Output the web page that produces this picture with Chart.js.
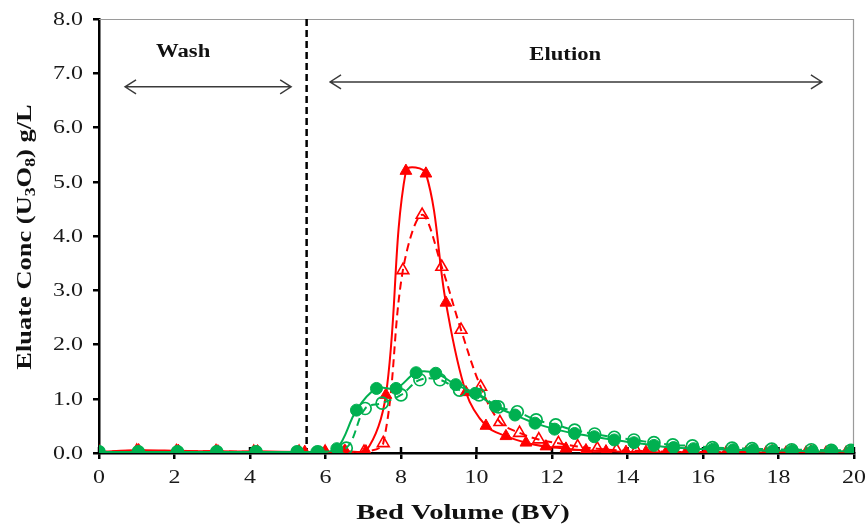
<!DOCTYPE html>
<html>
<head>
<meta charset="utf-8">
<script src="https://cdn.jsdelivr.net/npm/chart.js@4.4.1/dist/chart.umd.min.js"></script>
<style>
  html, body { margin: 0; padding: 0; background: #ffffff; }
  #wrap { width: 867px; height: 527px; }
</style>
</head>
<body>
<div id="wrap"><canvas id="c" width="867" height="527"></canvas></div>
<script>
// ---- Data ----
const redFilledX = [0, 1.05, 2.1, 3.15, 4.2, 5.45, 5.99, 6.53, 7.07, 7.6, 8.13, 8.66, 9.19, 9.72, 10.25, 10.78, 11.31, 11.84, 12.37, 12.9, 13.43, 13.96, 14.49, 15.02, 15.55, 16.08, 16.61, 17.14, 17.67, 18.2, 18.73, 19.26, 19.79];
const redFilledY = [0.02, 0.05, 0.04, 0.03, 0.03, 0.02, 0.02, 0.03, 0.03, 1.07, 5.2, 5.15, 2.77, 1.12, 0.5, 0.31, 0.19, 0.12, 0.08, 0.05, 0.03, 0.02, 0.02, 0.01, 0.01, 0.01, 0.01, 0.01, 0.01, 0.01, 0.01, 0.01, 0.01];

const redOpenX = [0, 1.0, 2.05, 3.1, 4.1, 5.3, 5.99, 6.5, 7.02, 7.53, 8.05, 8.56, 9.08, 9.59, 10.11, 10.62, 11.14, 11.65, 12.17, 12.68, 13.2, 13.71, 14.23, 14.74, 15.26, 15.77, 16.29, 16.8, 17.32, 17.83, 18.35, 18.86, 19.38, 19.89];
const redOpenY = [0.02, 0.04, 0.03, 0.03, 0.02, 0.02, 0.02, 0.02, 0.02, 0.18, 3.37, 4.39, 3.43, 2.27, 1.22, 0.57, 0.37, 0.25, 0.18, 0.12, 0.08, 0.05, 0.04, 0.03, 0.02, 0.02, 0.02, 0.02, 0.02, 0.02, 0.02, 0.02, 0.02, 0.02];

const greenFilledX = [0, 1.04, 2.08, 3.12, 4.16, 5.25, 5.77, 6.3, 6.82, 7.35, 7.87, 8.4, 8.92, 9.45, 9.97, 10.5, 11.02, 11.55, 12.07, 12.6, 13.12, 13.65, 14.17, 14.7, 15.22, 15.75, 16.27, 16.8, 17.32, 17.85, 18.37, 18.9, 19.42, 19.95];
const greenFilledY = [0.02, 0.02, 0.02, 0.02, 0.02, 0.02, 0.02, 0.08, 0.79, 1.19, 1.19, 1.48, 1.47, 1.26, 1.1, 0.86, 0.7, 0.55, 0.44, 0.36, 0.3, 0.24, 0.19, 0.14, 0.1, 0.08, 0.07, 0.06, 0.05, 0.04, 0.04, 0.03, 0.03, 0.03];

const greenOpenX = [0, 1.04, 2.08, 3.12, 4.16, 5.25, 5.8, 6.55, 7.05, 7.5, 8.0, 8.5, 9.03, 9.55, 10.07, 10.58, 11.08, 11.58, 12.1, 12.6, 13.13, 13.65, 14.17, 14.7, 15.2, 15.72, 16.25, 16.77, 17.3, 17.82, 18.35, 18.87, 19.4, 19.92];
const greenOpenY = [0.02, 0.02, 0.02, 0.02, 0.02, 0.02, 0.02, 0.09, 0.82, 0.92, 1.07, 1.35, 1.35, 1.16, 1.07, 0.85, 0.76, 0.61, 0.52, 0.42, 0.35, 0.29, 0.24, 0.19, 0.15, 0.13, 0.1, 0.09, 0.08, 0.07, 0.06, 0.06, 0.05, 0.05];

const xTickValues = [0, 2, 4, 6, 8, 10, 12, 14, 16, 18, 20];
const yTickValues = [0, 1, 2, 3, 4, 5, 6, 7, 8];
const phaseBoundary = 5.5;
const washLabel = "Wash";
const elutionLabel = "Elution";
const xTitle = "Bed Volume (BV)";
const yTitleParts = [["Eluate Conc (U", false], ["3", true], ["O", false], ["8", true], [") g/L", false]];
// arrow annotations in data units: [xStart, xEnd, y]
const washArrow = [0.69, 5.09, 6.75];
const elutionArrow = [6.12, 19.15, 6.84];
const washText = [2.23, 7.38];
const elutionText = [12.35, 7.33];

function pts(xs, ys) { return xs.map((x, i) => ({ x: x, y: ys[i] })); }

const RED = '#FF0000';
const GREEN = '#00B050';
const SERIF = '"Liberation Serif", "Times New Roman", serif';
const STRETCH = 1.26;

function wideText(ctx, text, px, py, align, k) {
  ctx.save();
  ctx.translate(px, py);
  ctx.scale(k || STRETCH, 1);
  ctx.textAlign = align;
  ctx.fillText(text, 0, 0);
  ctx.restore();
}

const decor = {
  id: 'decor',
  beforeDatasetsDraw(chart) {
    const { ctx, chartArea: a, scales: { x, y } } = chart;
    ctx.save();
    ctx.strokeStyle = '#9a9a9a';
    ctx.lineWidth = 1.2;
    ctx.beginPath();
    ctx.moveTo(a.left, a.top + 0.5);
    ctx.lineTo(a.right - 0.5, a.top + 0.5);
    ctx.lineTo(a.right - 0.5, a.bottom);
    ctx.stroke();
    const bx = x.getPixelForValue(phaseBoundary);
    ctx.strokeStyle = '#000';
    ctx.lineWidth = 2.5;
    ctx.setLineDash([7, 4]);
    ctx.beginPath();
    ctx.moveTo(bx, a.top);
    ctx.lineTo(bx, a.bottom);
    ctx.stroke();
    ctx.setLineDash([]);
    ctx.strokeStyle = '#000';
    ctx.lineWidth = 2.5;
    xTickValues.forEach(v => {
      const px = x.getPixelForValue(v);
      ctx.beginPath();
      ctx.moveTo(px, a.bottom);
      ctx.lineTo(px, a.bottom - 6);
      ctx.stroke();
    });
    function arrow(spec) {
      const x1 = x.getPixelForValue(spec[0]);
      const x2 = x.getPixelForValue(spec[1]);
      const py = y.getPixelForValue(spec[2]);
      ctx.strokeStyle = '#3a3a3a';
      ctx.lineWidth = 1.4;
      ctx.beginPath();
      ctx.moveTo(x1, py); ctx.lineTo(x2, py);
      ctx.moveTo(x1 + 11, py - 7); ctx.lineTo(x1, py); ctx.lineTo(x1 + 11, py + 7);
      ctx.moveTo(x2 - 11, py - 7); ctx.lineTo(x2, py); ctx.lineTo(x2 - 11, py + 7);
      ctx.stroke();
    }
    arrow(washArrow);
    arrow(elutionArrow);
    ctx.fillStyle = '#111';
    ctx.font = 'bold 18px ' + SERIF;
    ctx.textBaseline = 'middle';
    wideText(ctx, washLabel, x.getPixelForValue(washText[0]), y.getPixelForValue(washText[1]), 'center');
    wideText(ctx, elutionLabel, x.getPixelForValue(elutionText[0]), y.getPixelForValue(elutionText[1]), 'center');
    ctx.restore();
  },
  afterDraw(chart) {
    const { ctx, chartArea: a, scales: { x, y } } = chart;
    ctx.save();
    ctx.fillStyle = '#1a1a1a';
    ctx.font = '19px ' + SERIF;
    ctx.textBaseline = 'middle';
    yTickValues.forEach(v => wideText(ctx, v.toFixed(1), 83, y.getPixelForValue(v) + 1, 'right'));
    ctx.textBaseline = 'top';
    xTickValues.forEach(v => wideText(ctx, String(v), x.getPixelForValue(v), 469, 'center'));
    // x title
    ctx.fillStyle = '#111';
    ctx.font = 'bold 22px ' + SERIF;
    ctx.textBaseline = 'alphabetic';
    wideText(ctx, xTitle, 463, 519, 'center', 1.3);
    // y title with subscripts
    const big = 'bold 21px ' + SERIF;
    const small = 'bold 14px ' + SERIF;
    let total = 0;
    yTitleParts.forEach(p => { ctx.font = p[1] ? small : big; total += ctx.measureText(p[0]).width; });
    ctx.translate(31, 237);
    ctx.rotate(-Math.PI / 2);
    ctx.scale(STRETCH, 1);
    ctx.textAlign = 'left';
    let cx = -total / 2;
    yTitleParts.forEach(p => {
      ctx.font = p[1] ? small : big;
      ctx.fillText(p[0], cx, p[1] ? 4 : 0);
      cx += ctx.measureText(p[0]).width;
    });
    ctx.restore();
  }
};

const ctx = document.getElementById('c').getContext('2d');
new Chart(ctx, {
  type: 'scatter',
  data: {
    datasets: [
      {
        label: 'Green filled', data: pts(greenFilledX, greenFilledY), showLine: true,
        borderColor: GREEN, backgroundColor: GREEN, borderWidth: 2, tension: 0.35,
        pointStyle: 'circle', pointRadius: 6, pointBorderWidth: 1, pointBackgroundColor: GREEN, pointBorderColor: GREEN
      },
      {
        label: 'Green open', data: pts(greenOpenX, greenOpenY), showLine: true,
        borderColor: GREEN, borderWidth: 2, borderDash: [8, 5], tension: 0.35,
        pointStyle: 'circle', pointRadius: 6, pointBorderWidth: 1.7, pointBackgroundColor: 'rgba(255,255,255,0)', pointBorderColor: GREEN
      },
      {
        label: 'Red filled', data: pts(redFilledX, redFilledY), showLine: true,
        borderColor: RED, backgroundColor: RED, borderWidth: 2, tension: 0.35,
        pointStyle: 'triangle', pointRadius: 6.8, pointBorderWidth: 1, pointBackgroundColor: RED, pointBorderColor: RED
      },
      {
        label: 'Red open', data: pts(redOpenX, redOpenY), showLine: true,
        borderColor: RED, borderWidth: 2, borderDash: [8, 5], tension: 0.35,
        pointStyle: 'triangle', pointRadius: 6.8, pointBorderWidth: 1.6, pointBackgroundColor: 'rgba(255,255,255,0)', pointBorderColor: RED
      }
    ]
  },
  options: {
    responsive: false,
    animation: false,
    events: [],
    layout: { padding: { top: 19, right: 13, left: 0, bottom: 0 } },
    plugins: { legend: { display: false }, tooltip: { enabled: false } },
    scales: {
      x: {
        type: 'linear', min: 0, max: 20,
        afterFit(s) { s.height = 74; },
        afterBuildTicks(s) { s.ticks = xTickValues.map(v => ({ value: v })); },
        grid: { display: true, drawOnChartArea: false, drawTicks: true, tickLength: 6, color: '#000', lineWidth: 2.5 },
        border: { display: true, color: '#000', width: 2.5 },
        ticks: { display: false }
      },
      y: {
        type: 'linear', min: 0, max: 8,
        afterFit(s) { s.width = 99; },
        afterBuildTicks(s) { s.ticks = yTickValues.map(v => ({ value: v })); },
        grid: { display: true, drawOnChartArea: false, drawTicks: true, tickLength: 6, color: '#000', lineWidth: 2.5 },
        border: { display: true, color: '#000', width: 2.5 },
        ticks: { display: false }
      }
    }
  },
  plugins: [decor]
});
</script>
</body>
</html>
